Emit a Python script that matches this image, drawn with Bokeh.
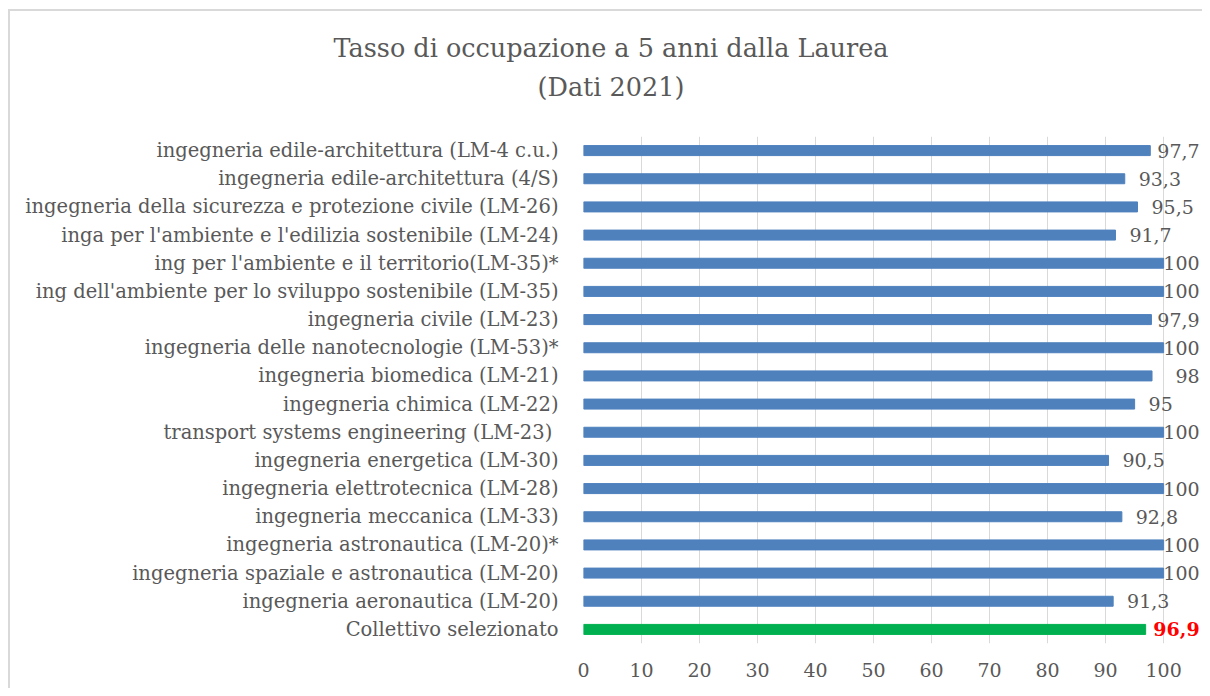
from bokeh.plotting import figure
from bokeh.models import Range1d, FactorRange, FixedTicker, Title, ColumnDataSource
from bokeh.core.properties import value
from bokeh.embed import file_html
from bokeh.resources import INLINE

title_line1 = "Tasso di occupazione a 5 anni dalla Laurea"
title_line2 = "(Dati 2021)"

categories = [
    "ingegneria edile-architettura (LM-4 c.u.)",
    "ingegneria edile-architettura (4/S)",
    "ingegneria della sicurezza e protezione civile (LM-26)",
    "inga per l'ambiente e l'edilizia sostenibile (LM-24)",
    "ing per l'ambiente e il territorio(LM-35)*",
    "ing dell'ambiente per lo sviluppo sostenibile (LM-35)",
    "ingegneria civile (LM-23)",
    "ingegneria delle nanotecnologie (LM-53)*",
    "ingegneria biomedica (LM-21)",
    "ingegneria chimica (LM-22)",
    "transport systems engineering  (LM-23)",
    "ingegneria energetica (LM-30)",
    "ingegneria elettrotecnica (LM-28)",
    "ingegneria meccanica (LM-33)",
    "ingegneria astronautica (LM-20)*",
    "ingegneria spaziale e astronautica (LM-20)",
    "ingegneria aeronautica (LM-20)",
]
values = [97.7, 93.3, 95.5, 91.7, 100, 100, 97.9, 100, 98, 95, 100, 90.5, 100, 92.8, 100, 100, 91.3]
value_labels = ["97,7", "93,3", "95,5", "91,7", "100", "100", "97,9", "100", "98", "95", "100",
                "90,5", "100", "92,8", "100", "100", "91,3"]

total_category = "Collettivo selezionato"
total_value = 96.9
total_label = "96,9"

x_ticks = [0, 10, 20, 30, 40, 50, 60, 70, 80, 90, 100]

FONT = "DejaVu Serif"
GRAY = "#595959"
BLUE = "#4F81BD"
GREEN = "#00B050"

factors = [total_category] + categories[::-1]

W, H = 1202, 688
p = figure(width=W, height=H, output_backend="svg", toolbar_location=None,
           x_range=Range1d(0, 106.7), y_range=FactorRange(factors=factors, range_padding=0),
           min_border_left=583, min_border_right=0, min_border_top=136, min_border_bottom=45)
p.styles = {
    "background": "linear-gradient(#d9d9d9, #d9d9d9) 8px 9px / 2px 100% no-repeat, "
                  "linear-gradient(#d9d9d9, #d9d9d9) 8px 9px / 100% 2px no-repeat, white"
}
p.outline_line_color = None
p.background_fill_color = "white"
p.border_fill_color = None

# axes
p.xaxis.ticker = FixedTicker(ticks=x_ticks)
p.xaxis.axis_line_color = None
p.xaxis.major_tick_line_color = None
p.xaxis.minor_tick_line_color = None
p.xaxis.major_tick_out = 0
p.xaxis.major_label_standoff = 19
p.xaxis.major_label_text_font = FONT
p.xaxis.major_label_text_font_size = "19px"
p.xaxis.major_label_text_color = GRAY

p.yaxis.axis_line_color = None
p.yaxis.major_tick_line_color = None
p.yaxis.major_tick_out = 0
p.yaxis.major_label_standoff = 25
p.yaxis.major_label_text_font = FONT
p.yaxis.major_label_text_font_size = "19.5px"
p.yaxis.major_label_text_color = GRAY

p.xgrid.grid_line_color = "#d9d9d9"
p.xgrid.grid_line_width = 1
p.ygrid.grid_line_color = None

# bars
src = ColumnDataSource(dict(cat=categories, val=values, lab=value_labels))
p.hbar(y="cat", right="val", left=0, height=0.355, source=src, color=BLUE)
p.hbar(y=[total_category], right=[total_value], left=0, height=0.355, color=GREEN)

# data labels (Excel-style: outside end, pushed inside the plot edge when too long)
LIMIT = 106.2
OFF = 2.4
near = [i for i, v in enumerate(values) if v > 96.5]
far = [i for i, v in enumerate(values) if v <= 96.5]
p.text(x=[values[i] + OFF for i in far], y=[categories[i] for i in far],
       text=[value_labels[i] for i in far], text_align="left", text_baseline="middle",
       text_font=value(FONT), text_font_size="19px", text_color=GRAY)
p.text(x=[LIMIT] * len(near), y=[categories[i] for i in near],
       text=[value_labels[i] for i in near], text_align="right", text_baseline="middle",
       text_font=value(FONT), text_font_size="19px", text_color=GRAY)
p.text(x=[LIMIT], y=[total_category], text=[total_label], text_align="right",
       text_baseline="middle", text_font=value(FONT), text_font_size="19px",
       text_font_style="bold", text_color="#FF0000")

# title (two lines, the one added first sits closest to the plot)
p.add_layout(Title(text=title_line2, align="left", offset=-46, text_font=FONT,
                   text_font_size="25.5px", text_font_style="normal", text_color=GRAY,
                   standoff=70), "above")
p.add_layout(Title(text=title_line1, align="left", offset=-250, text_font=FONT,
                   text_font_size="25.5px", text_font_style="normal", text_color=GRAY,
                   standoff=-56), "above")

open("out.html", "w").write(file_html(p, INLINE))
